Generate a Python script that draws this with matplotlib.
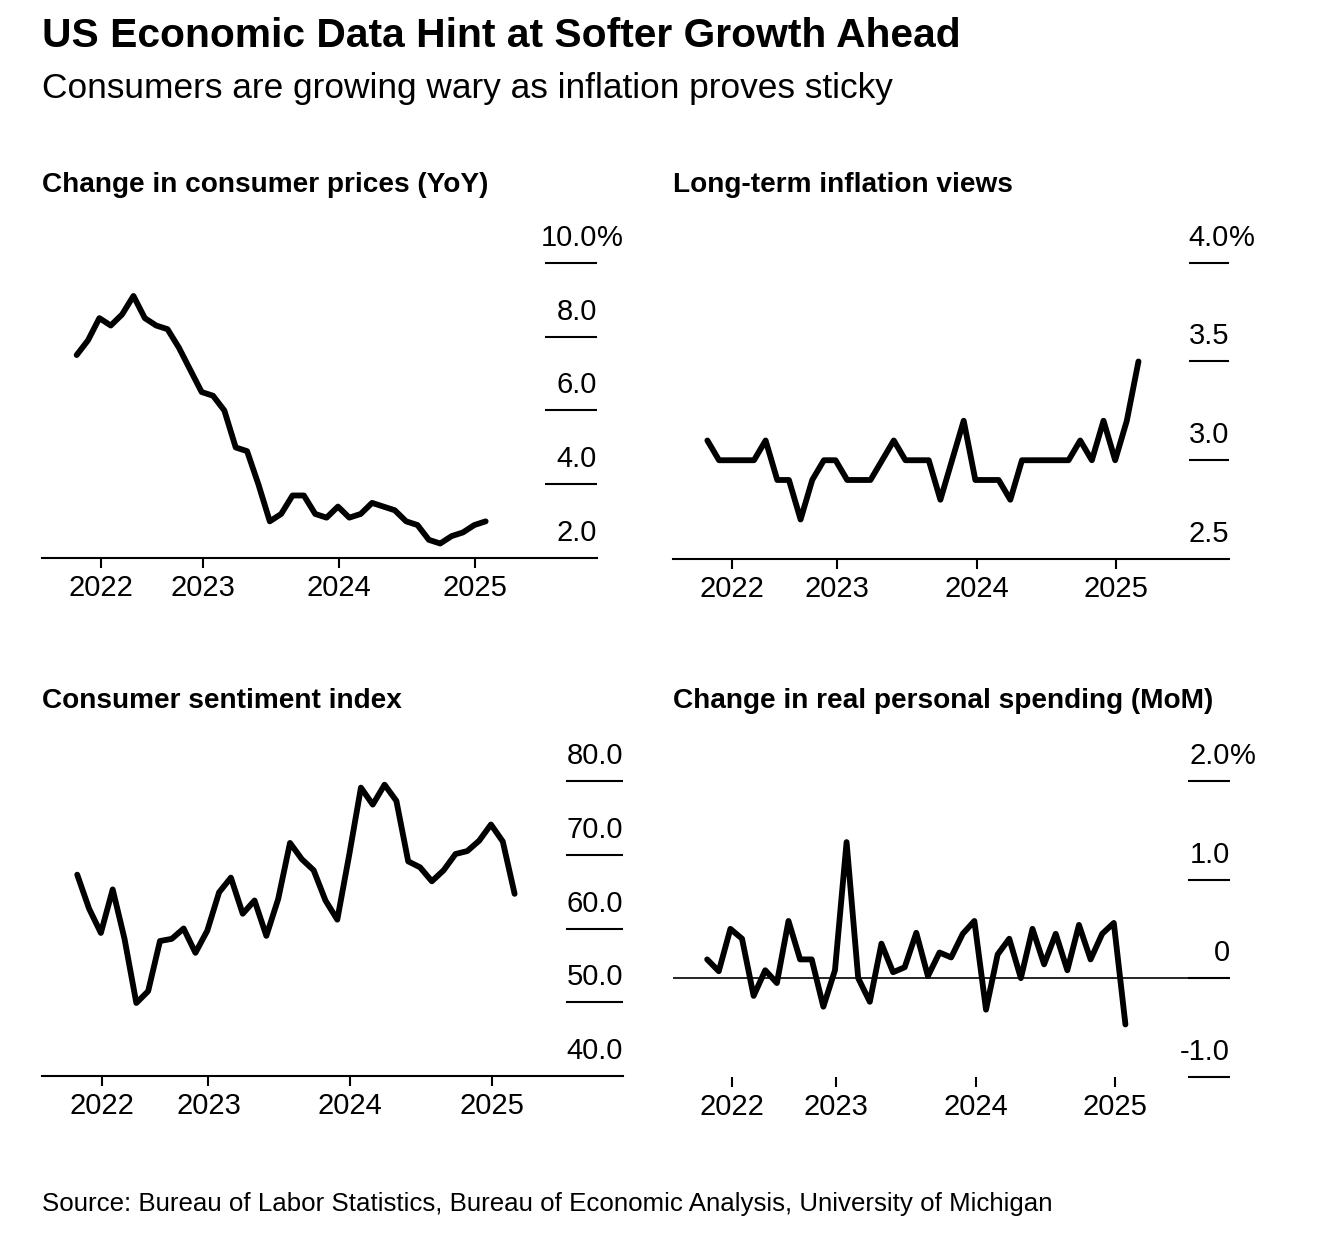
import matplotlib
matplotlib.use("Agg")
import matplotlib.pyplot as plt
from matplotlib.transforms import offset_copy

plt.rcParams['font.family'] = ['Liberation Sans', 'DejaVu Sans']

W, H = 1318, 1258

# monthly values, index 0 = Jan 2022
cpi = [7.5, 7.9, 8.5, 8.3, 8.6, 9.1, 8.5, 8.3, 8.2, 7.7, 7.1, 6.5,
       6.4, 6.0, 5.0, 4.9, 4.0, 3.0, 3.2, 3.7, 3.7, 3.2, 3.1, 3.4,
       3.1, 3.2, 3.5, 3.4, 3.3, 3.0, 2.9, 2.5, 2.4, 2.6, 2.7, 2.9,
       3.0]
expectations = [3.1, 3.0, 3.0, 3.0, 3.0, 3.1, 2.9, 2.9, 2.7, 2.9, 3.0, 3.0,
                2.9, 2.9, 2.9, 3.0, 3.1, 3.0, 3.0, 3.0, 2.8, 3.0, 3.2, 2.9,
                2.9, 2.9, 2.8, 3.0, 3.0, 3.0, 3.0, 3.0, 3.1, 3.0, 3.2, 3.0,
                3.2, 3.5]
sentiment = [67.3, 62.7, 59.4, 65.3, 58.6, 49.9, 51.5, 58.3, 58.6, 60.0, 56.7, 59.7,
             64.9, 66.9, 62.0, 63.8, 59.0, 64.0, 71.6, 69.4, 67.9, 63.8, 61.2, 69.9,
             79.1, 76.8, 79.5, 77.3, 69.1, 68.3, 66.4, 67.9, 70.1, 70.5, 71.9, 74.1,
             71.8, 64.7]
spending = [0.19, 0.07, 0.50, 0.40, -0.18, 0.08, -0.05, 0.58, 0.19, 0.19, -0.29, 0.08,
            1.38, 0.0, -0.24, 0.35, 0.06, 0.11, 0.46, 0.02, 0.26, 0.21, 0.45, 0.58,
            -0.32, 0.24, 0.40, 0.0, 0.50, 0.14, 0.45, 0.08, 0.54, 0.19, 0.45, 0.56,
            -0.47]

year_ticks = [2.1, 11.1, 23.1, 35.1]
year_labels = ['2022', '2023', '2024', '2025']

cpi_ticks = [2, 4, 6, 8, 10]
cpi_labels = ['2.0', '4.0', '6.0', '8.0', '10.0']
exp_ticks = [2.5, 3.0, 3.5, 4.0]
exp_labels = ['2.5', '3.0', '3.5', '4.0']
sent_ticks = [40, 50, 60, 70, 80]
sent_labels = ['40.0', '50.0', '60.0', '70.0', '80.0']
spend_ticks = [-1, 0, 1, 2]
spend_labels = ['-1.0', '0', '1.0', '2.0']

fig = plt.figure(figsize=(W / 100, H / 100), dpi=100)


def px_axes(left, top, right, bottom):
    return fig.add_axes([left / W, 1 - bottom / H, (right - left) / W, (bottom - top) / H])


def fig_text(x, y, s, **kw):
    fig.text(x / W, 1 - y / H, s, va='baseline', ha='left', color='black', **kw)


def panel(box, values, xlim, yticks, ylabels, tick_len, pct=True, axis_line=True):
    ax = px_axes(*box)
    ax.plot(range(len(values)), values, color='black', lw=4.2,
            solid_capstyle='round', solid_joinstyle='round', zorder=3)
    ax.set_xlim(*xlim)
    ax.set_ylim(yticks[0], yticks[-1])
    for side in ['top', 'right', 'left']:
        ax.spines[side].set_visible(False)
    ax.spines['bottom'].set_linewidth(1.5)
    ax.spines['bottom'].set_visible(axis_line)
    ax.set_yticks([])
    ax.set_xticks(year_ticks, year_labels)
    ax.tick_params(axis='x', length=7.5, width=1.5, pad=4, labelsize=21)

    frac = 1 - tick_len / (box[2] - box[0])
    lines = yticks if not axis_line else yticks[1:]
    ax.hlines(lines, frac, 1, transform=ax.get_yaxis_transform(),
              color='black', lw=1.5, clip_on=False)
    trans = offset_copy(ax.get_yaxis_transform(), fig=fig, x=0, y=17, units='dots')
    for i, (t, lab) in enumerate(zip(yticks, ylabels)):
        ax.text(1, t, lab, transform=trans, ha='right', va='baseline', fontsize=21)
        if pct and i == len(yticks) - 1:
            ax.text(1, t, '%', transform=trans, ha='left', va='baseline', fontsize=21)
    return ax


panel((42, 262.7, 597, 558.3), cpi, (-3.05, 45.8), cpi_ticks, cpi_labels, 52)
panel((673, 262.7, 1229, 559), expectations, (-2.95, 44.77), exp_ticks, exp_labels, 40)
panel((42, 781, 623, 1076), sentiment, (-2.98, 46.17), sent_ticks, sent_labels, 57, pct=False)
ax4 = panel((673, 781, 1230, 1076.7), spending, (-2.94, 45.0), spend_ticks, spend_labels, 42,
            axis_line=False)
ax4.axhline(0, color='black', lw=1.2, zorder=2)

fig_text(42, 47, 'US Economic Data Hint at Softer Growth Ahead', fontsize=29.3, fontweight='bold')
fig_text(42, 98, 'Consumers are growing wary as inflation proves sticky', fontsize=25.4)
fig_text(42, 191.5, 'Change in consumer prices (YoY)', fontsize=20.2, fontweight='bold')
fig_text(673, 191.5, 'Long-term inflation views', fontsize=20.2, fontweight='bold')
fig_text(42, 708.3, 'Consumer sentiment index', fontsize=20.2, fontweight='bold')
fig_text(673, 708.3, 'Change in real personal spending (MoM)', fontsize=20.2, fontweight='bold')
fig_text(42, 1211.5, 'Source: Bureau of Labor Statistics, Bureau of Economic Analysis, '
         'University of Michigan', fontsize=18.6)

fig.savefig('out.png', dpi=100, facecolor='white')
